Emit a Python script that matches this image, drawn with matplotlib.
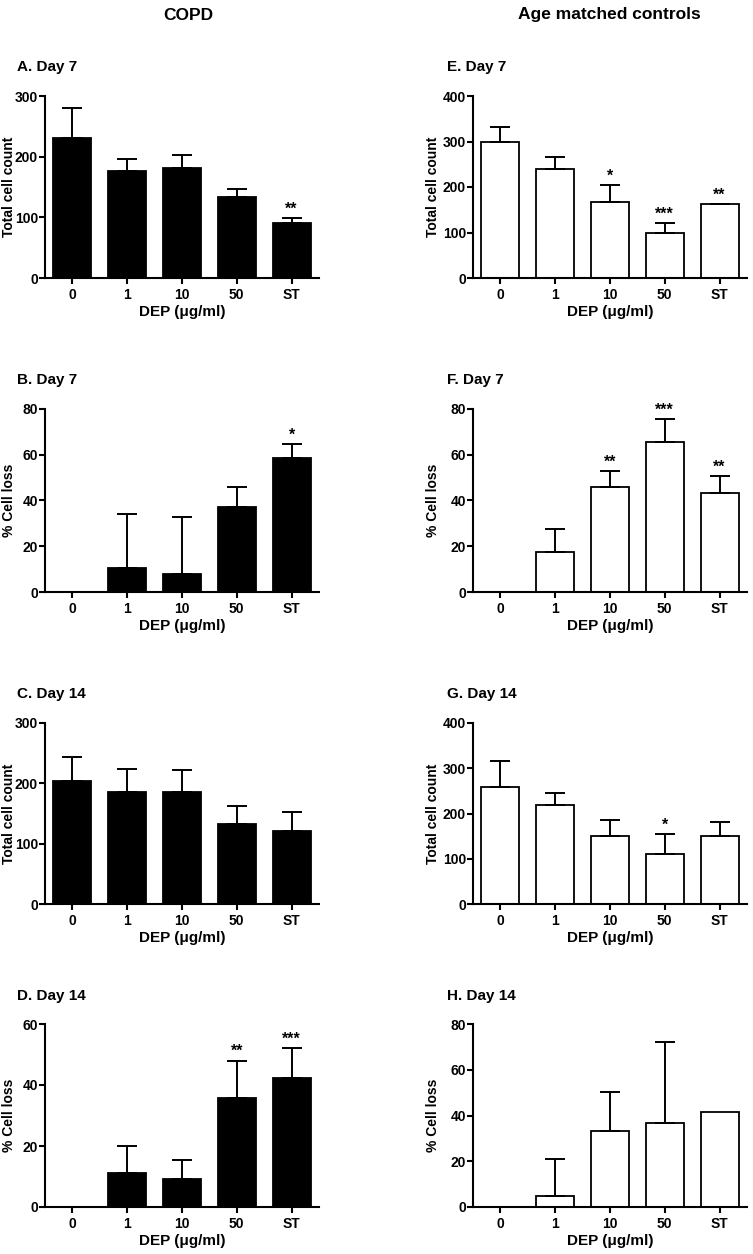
import matplotlib
matplotlib.use("Agg")
from matplotlib import pyplot as plt

plt.rcParams["font.family"] = ["Liberation Sans", "DejaVu Sans"]
plt.rcParams["font.weight"] = "bold"

doses = ["0", "1", "10", "50", "ST"]

# COPD, left column
copd_d7_count = [231, 177, 182, 134, 90]
copd_d7_count_err = [50, 19, 21, 13, 9]
copd_d7_count_sig = ["", "", "", "", "**"]

copd_d7_loss = [0, 10.4, 8.0, 37.3, 58.4]
copd_d7_loss_err = [0, 23.7, 24.6, 8.8, 6.1]
copd_d7_loss_sig = ["", "", "", "", "*"]

copd_d14_count = [204, 185, 186, 132, 121]
copd_d14_count_err = [39, 39, 36, 31, 31]
copd_d14_count_sig = ["", "", "", "", ""]

copd_d14_loss = [0, 11.3, 9.1, 35.8, 42.2]
copd_d14_loss_err = [0, 8.6, 6.4, 12.2, 9.8]
copd_d14_loss_sig = ["", "", "", "**", "***"]

# age matched controls, right column
ctrl_d7_count = [298, 239, 166, 98, 162]
ctrl_d7_count_err = [34, 26, 38, 23, 1]
ctrl_d7_count_sig = ["", "", "*", "***", "**"]

ctrl_d7_loss = [0, 17.5, 46.1, 65.4, 43.1]
ctrl_d7_loss_err = [0, 10.0, 6.8, 10.2, 7.6]
ctrl_d7_loss_sig = ["", "", "**", "***", "**"]

ctrl_d14_count = [258, 218, 150, 111, 150]
ctrl_d14_count_err = [57, 27, 35, 44, 32]
ctrl_d14_count_sig = ["", "", "", "*", ""]

ctrl_d14_loss = [0, 4.8, 33.3, 36.9, 41.6]
ctrl_d14_loss_err = [0, 16.1, 17.0, 35.1, 0]
ctrl_d14_loss_sig = ["", "", "", "", ""]

W, H = 753, 1254
fig = plt.figure(figsize=(W / 100, H / 100), dpi=100)

# (title, values, errors, stars, ylabel, ymax, ystep, fill, column, zero_px, top_px, title_px)
panels = [
    ("A. Day 7", copd_d7_count, copd_d7_count_err, copd_d7_count_sig, "Total cell count", 300, 100, "black", 0, 278, 96, 67),
    ("B. Day 7", copd_d7_loss, copd_d7_loss_err, copd_d7_loss_sig, "% Cell loss", 80, 20, "black", 0, 592, 409, 380),
    ("C. Day 14", copd_d14_count, copd_d14_count_err, copd_d14_count_sig, "Total cell count", 300, 100, "black", 0, 904, 723, 694),
    ("D. Day 14", copd_d14_loss, copd_d14_loss_err, copd_d14_loss_sig, "% Cell loss", 60, 20, "black", 0, 1207, 1024, 996),
    ("E. Day 7", ctrl_d7_count, ctrl_d7_count_err, ctrl_d7_count_sig, "Total cell count", 400, 100, "white", 1, 278, 96, 67),
    ("F. Day 7", ctrl_d7_loss, ctrl_d7_loss_err, ctrl_d7_loss_sig, "% Cell loss", 80, 20, "white", 1, 592, 409, 380),
    ("G. Day 14", ctrl_d14_count, ctrl_d14_count_err, ctrl_d14_count_sig, "Total cell count", 400, 100, "white", 1, 904, 723, 694),
    ("H. Day 14", ctrl_d14_loss, ctrl_d14_loss_err, ctrl_d14_loss_sig, "% Cell loss", 80, 20, "white", 1, 1207, 1024, 996),
]

axis_left = [45, 473]
axis_w = 274
title_left = [17, 447]
ylab_px = [9, 433]   # centre of the y label, in pixels

for title, vals, errs, sig, ylab, ymax, ystep, fill, col, zero_px, top_px, title_px in panels:
    ax = fig.add_axes([axis_left[col] / W, 1 - zero_px / H, axis_w / W, (zero_px - top_px) / H])
    x = list(range(len(doses)))
    ax.bar(x, vals, width=0.69, color=fill, edgecolor="black", linewidth=1.3, zorder=2)
    ex = [i for i in x if errs[i] > 0]
    ax.errorbar(ex, [vals[i] for i in ex], yerr=[[0] * len(ex), [errs[i] for i in ex]],
                fmt="none", ecolor="black", elinewidth=1.4, capsize=7, capthick=1.4, zorder=3)
    for i in x:
        if sig[i]:
            ax.annotate(sig[i], (i, vals[i] + errs[i]), xytext=(0, 1), textcoords="offset points",
                        ha="center", va="bottom", fontsize=11.5, fontweight="bold")
    ax.set_xlim(-0.5, 4.5)
    ax.set_ylim(0, ymax)
    ax.set_yticks(range(0, ymax + 1, ystep))
    ax.set_xticks(x)
    ax.set_xticklabels(doses)
    ax.spines["top"].set_visible(False)
    ax.spines["right"].set_visible(False)
    ax.spines["left"].set_linewidth(1.5)
    ax.spines["bottom"].set_linewidth(1.5)
    ax.tick_params(direction="out", length=4, width=1.5, labelsize=10)
    ax.tick_params(axis="y", pad=1)
    ax.tick_params(axis="x", pad=3)
    for lab in ax.get_xticklabels() + ax.get_yticklabels():
        lab.set_fontweight("bold")
    ax.set_ylabel(ylab, fontsize=10, fontweight="bold")
    ax.yaxis.set_label_coords((ylab_px[col] - axis_left[col]) / axis_w, 0.5)
    ax.yaxis.label.set_va("center")
    ax.set_xlabel("DEP (\u03bcg/ml)", fontsize=11, fontweight="bold")
    ax.xaxis.set_label_coords(0.5, -34 / (zero_px - top_px))
    ax.xaxis.label.set_va("center")
    fig.text(title_left[col] / W, 1 - title_px / H, title, ha="left", va="center",
             fontsize=11, fontweight="bold")

fig.text(188 / W, 1 - 15 / H, "COPD", ha="center", va="center", fontsize=12.5, fontweight="bold")
fig.text(609 / W, 1 - 15 / H, "Age matched controls", ha="center", va="center", fontsize=12.5, fontweight="bold")

fig.savefig("out.png", dpi=100)
